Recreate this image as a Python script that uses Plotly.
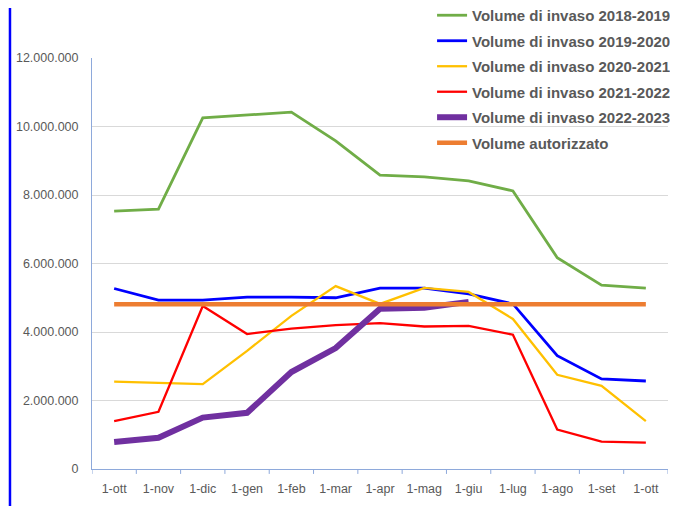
import plotly.graph_objects as go

categories = ["1-ott", "1-nov", "1-dic", "1-gen", "1-feb", "1-mar", "1-apr",
              "1-mag", "1-giu", "1-lug", "1-ago", "1-set", "1-ott "]

v2018_2019 = [7530000, 7590000, 10250000, 10330000, 10420000, 9580000, 8580000,
              8530000, 8410000, 8120000, 6170000, 5370000, 5280000]
v2019_2020 = [5270000, 4930000, 4930000, 5020000, 5020000, 5000000, 5280000,
              5280000, 5110000, 4820000, 3310000, 2630000, 2570000]
v2020_2021 = [2550000, 2510000, 2480000, 3450000, 4470000, 5340000, 4820000,
              5290000, 5170000, 4380000, 2750000, 2430000, 1400000]
v2021_2022 = [1400000, 1670000, 4760000, 3940000, 4100000, 4200000, 4260000,
              4160000, 4180000, 3920000, 1150000, 800000, 770000]
v2022_2023 = [790000, 910000, 1500000, 1640000, 2830000, 3530000, 4680000,
              4710000, 4880000, None, None, None, None]
v_autorizzato = [4810000] * 13

y_ticks = [0, 2000000, 4000000, 6000000, 8000000, 10000000, 12000000]
y_tick_labels = ["0", "2.000.000", "4.000.000", "6.000.000", "8.000.000",
                 "10.000.000", "12.000.000"]

series = [
    ("Volume di invaso 2018-2019", v2018_2019, "#70AD47", 2.8),
    ("Volume di invaso 2019-2020", v2019_2020, "#0000FF", 2.8),
    ("Volume di invaso 2020-2021", v2020_2021, "#FFC000", 2.3),
    ("Volume di invaso 2021-2022", v2021_2022, "#FF0000", 2.3),
    ("Volume di invaso 2022-2023", v2022_2023, "#7030A0", 6),
    ("Volume autorizzato", v_autorizzato, "#ED7D31", 4.5),
]

fig = go.Figure()
for i, (name, vals, color, w) in enumerate(series):
    fig.add_trace(go.Scatter(
        x=list(range(len(categories))), y=vals, name=name, mode="lines",
        line=dict(color=color, width=w), connectgaps=False,
        legendgroup="g%d" % i,
    ))

fig.update_layout(
    width=678, height=506,
    margin=dict(l=84, r=18, t=50, b=45, autoexpand=False),
    paper_bgcolor="white", plot_bgcolor="white",
    font=dict(family="Liberation Sans, Arial, sans-serif", color="#595959", size=12),
    showlegend=True,
    legend=dict(
        x=1.014, xanchor="right", y=1.1436, yanchor="top",
        bgcolor="rgba(0,0,0,0)",
        font=dict(size=15, color="#595959", family="Liberation Sans, Arial, sans-serif",
                  weight="bold"),
        tracegroupgap=3, itemwidth=30,
    ),
    xaxis=dict(
        range=[-0.5, 12.5],
        tickmode="array", tickvals=list(range(len(categories))),
        ticktext=[c.strip() for c in categories],
        showgrid=False, zeroline=False,
        showline=True, linecolor="#8EA9DB", linewidth=1,
        ticks="", ticklabelstandoff=8,
        tickfont=dict(size=12.5, color="#595959"),
    ),
    yaxis=dict(
        range=[0, 12000000],
        tickmode="array", tickvals=y_ticks, ticktext=y_tick_labels,
        showgrid=True, gridcolor="#D9D9D9", gridwidth=1,
        zeroline=False,
        showline=True, linecolor="#8EA9DB", linewidth=1,
        ticks="", ticklabelstandoff=10,
        tickfont=dict(size=12.5, color="#595959"),
    ),
)

# tick marks between categories on x axis (Excel style)
for i in range(14):
    fig.add_shape(type="line", xref="x", yref="paper",
                  x0=i - 0.5, x1=i - 0.5, y0=0, y1=-0.012,
                  line=dict(color="#8EA9DB", width=1))

# blue border line on the left of the picture
fig.add_shape(type="line", xref="paper", yref="paper",
              x0=-0.1424, x1=-0.1424, y0=-0.2, y1=1.3,
              line=dict(color="#0000FF", width=2.5))

fig.write_html("out.html")
